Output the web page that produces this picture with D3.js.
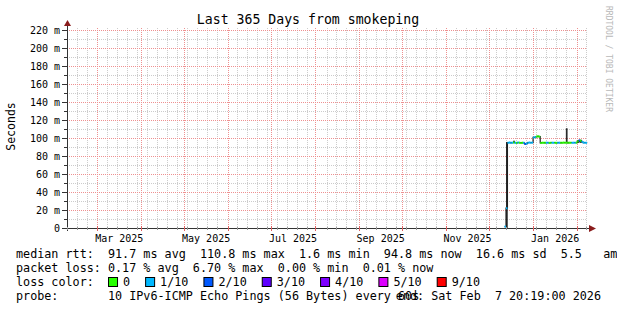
<!DOCTYPE html>
<html><head><meta charset="utf-8">
<script src="https://cdn.jsdelivr.net/npm/d3@7"></script>
<style>
html,body{margin:0;padding:0;background:#fff;}
svg{display:block;font-family:"DejaVu Sans Mono",monospace;}
text{white-space:pre;}
</style></head><body>
<svg id="c" width="617" height="310"></svg>
<script>
// ---------- data ----------
const title = "Last 365 Days from smokeping";
const yAxisLabel = "Seconds";
const watermark = "RRDTOOL / TOBI OETIKER";
const rangeStart = "2025-02-07 20:19";
const rangeEnd = "2026-02-07 20:19";
const yMax = 222.2;
const yMajorTicks = [0, 20, 40, 60, 80, 100, 120, 140, 160, 180, 200, 220];
const yTickLabels = ["0", "20 m", "40 m", "60 m", "80 m", "100 m", "120 m", "140 m", "160 m", "180 m", "200 m", "220 m"];
const yMinorTicks = [10, 30, 50, 70, 90, 110, 130, 150, 170, 190, 210];
const xLabelMonths = ["2025-03", "2025-05", "2025-07", "2025-09", "2025-11", "2026-01"];
const xTickLabels = ["Mar 2025", "May 2025", "Jul 2025", "Sep 2025", "Nov 2025", "Jan 2026"];

const days = ["2025-12-12","2025-12-13","2025-12-14","2025-12-15","2025-12-16","2025-12-17","2025-12-18","2025-12-19",
  "2025-12-20","2025-12-21","2025-12-22","2025-12-23","2025-12-24","2025-12-25","2025-12-26","2025-12-27","2025-12-28",
  "2025-12-29","2025-12-30","2025-12-31","2026-01-01","2026-01-02","2026-01-03","2026-01-04","2026-01-05","2026-01-06",
  "2026-01-07","2026-01-08","2026-01-09","2026-01-10","2026-01-11","2026-01-12","2026-01-13","2026-01-14","2026-01-15",
  "2026-01-16","2026-01-17","2026-01-18","2026-01-19","2026-01-20","2026-01-21","2026-01-22","2026-01-23","2026-01-24",
  "2026-01-25","2026-01-26","2026-01-27","2026-01-28","2026-01-29","2026-01-30","2026-01-31","2026-02-01","2026-02-02",
  "2026-02-03","2026-02-04","2026-02-05","2026-02-06","2026-02-07"];
// median rtt in ms
const median = [1.6, 22, 94.8, 95.0, 94.6, 94.8, 95.0, 94.8,
  94.6, 95.0, 94.8, 94.5, 94.8, 94.6, 93.3, 93.8, 94.8,
  95.0, 94.8, 94.9, 100.6, 100.8, 101.6, 101.8, 101.5, 94.5,
  94.8, 94.8, 94.6, 94.8, 94.8, 94.6, 94.8, 94.8, 94.7,
  94.8, 94.6, 94.8, 94.8, 94.6, 94.8, 94.9, 94.8, 94.8,
  94.6, 94.8, 94.8, 94.7, 94.8, 94.8, 94.8, 96.5, 97.2,
  96.8, 95.8, 94.8, 94.8, 94.8];
// loss level index into lossLabels
const loss = [1, 1, 1, 1, 1, 1, 0, 1,
  0, 1, 0, 0, 0, 1, 2, 1, 1,
  1, 1, 1, 1, 1, 0, 0, 0, 0,
  0, 0, 0, 1, 1, 0, 0, 1, 1,
  0, 0, 1, 1, 0, 0, 0, 0, 0,
  0, 0, 0, 1, 1, 1, 0, 0, 2,
  0, 1, 1, 1, 1];
// smoke (ping spread) where visible
const smokeDays = ["2025-12-13", "2025-12-18", "2026-01-24", "2026-02-01", "2026-02-02", "2026-02-03"];
const smokeLo = [0, 94.8, 94.8, 94.5, 95.0, 94.5];
const smokeHi = [95.5, 97.0, 110.8, 97.5, 98.2, 98.0];

const lossLabels = ["0", "1/10", "2/10", "3/10", "4/10", "5/10", "9/10"];
const lossColors = ["#26ff00", "#00b8ff", "#0059ff", "#5e00ff", "#7e00ff", "#dd00ff", "#ff0000"];

const legendRtt = "median rtt:  91.7 ms avg  110.8 ms max  1.6 ms min  94.8 ms now  16.6 ms sd  5.5   am/s";
const legendLoss = "packet loss: 0.17 % avg  6.70 % max  0.00 % min  0.01 % now";
const legendColorTitle = "loss color:";
const legendProbe = "probe:       10 IPv6-ICMP Echo Pings (56 Bytes) every 60s";
const legendEnd = "end: Sat Feb  7 20:19:00 2026";

// ---------- layout ----------
const svg = d3.select("#c");
const L = 67, R = 587, T = 28, B = 228;
const pt = d3.utcParse("%Y-%m-%d %H:%M"), pd = d3.utcParse("%Y-%m-%d"), pm = d3.utcParse("%Y-%m");
const t0 = pt(rangeStart), t1 = pt(rangeEnd);
const x = d3.scaleUtc().domain([t0, t1]).range([L, R]);
const y = d3.scaleLinear().domain([0, yMax]).range([B, T]);

const minorCol = "#cccccc", majorCol = "#ee9090";
const months = d3.utcMonth.range(t0, t1);
const monthPx = months.map(d => Math.round(x(d)));
const weeks = d3.utcSaturday.range(t0, t1).filter(d => !monthPx.some(p => Math.abs(p - Math.round(x(d))) <= 2));
const g = svg.append("g");
// minor grid
weeks.forEach(d => {
  g.append("line").attr("x1", Math.round(x(d)) + 0.5).attr("x2", Math.round(x(d)) + 0.5)
    .attr("y1", T).attr("y2", B).attr("stroke", minorCol).attr("stroke-dasharray", "1,1");
});
yMinorTicks.forEach(v => {
  g.append("line").attr("x1", L).attr("x2", R).attr("y1", Math.round(y(v)) + 0.5).attr("y2", Math.round(y(v)) + 0.5)
    .attr("stroke", minorCol).attr("stroke-dasharray", "1,1");
});
// major grid
months.forEach(d => {
  g.append("line").attr("x1", Math.round(x(d)) + 0.5).attr("x2", Math.round(x(d)) + 0.5)
    .attr("y1", T).attr("y2", B).attr("stroke", majorCol).attr("stroke-dasharray", "1,1");
});
yMajorTicks.forEach(v => {
  if (v === 0) return;
  g.append("line").attr("x1", L).attr("x2", R).attr("y1", Math.round(y(v)) + 0.5).attr("y2", Math.round(y(v)) + 0.5)
    .attr("stroke", majorCol).attr("stroke-dasharray", "1,1");
});

// smoke
const dayW = x(pd("2026-01-02")) - x(pd("2026-01-01"));
smokeDays.forEach((d, i) => {
  const xd = x(pd(d));
  svg.append("rect").attr("x", xd).attr("width", dayW + 0.3)
    .attr("y", y(smokeHi[i])).attr("height", y(smokeLo[i]) - y(smokeHi[i]))
    .attr("fill", "#2a2a2a");
});

// dark median connector line (step)
const pts = days.map((d, i) => [x(pd(d)), y(median[i])]);
pts.push([x(d3.utcDay.offset(pd(days[days.length - 1]), 1)), y(median[median.length - 1])]);
svg.append("path").attr("d", d3.line().curve(d3.curveStepAfter)(pts))
  .attr("fill", "none").attr("stroke", "#202020").attr("stroke-width", 1.2);

// colored median segments
days.forEach((d, i) => {
  const xa = x(pd(d)), xb = x(d3.utcDay.offset(pd(d), 1));
  svg.append("line").attr("x1", xa).attr("x2", Math.min(xb, R)).attr("y1", y(median[i])).attr("y2", y(median[i]))
    .attr("stroke", lossColors[loss[i]]).attr("stroke-width", 2);
});

// axes
const axCol = "#333", arrowCol = "#8a1c1c";
svg.append("line").attr("x1", L + 0.5).attr("x2", L + 0.5).attr("y1", B + 3).attr("y2", 24).attr("stroke", axCol);
svg.append("line").attr("x1", 62).attr("x2", 591).attr("y1", B + 0.5).attr("y2", B + 0.5).attr("stroke", axCol);
svg.append("path").attr("d", `M${L + 0.5},20 L${L - 3},26 L${L + 4},26 Z`).attr("fill", arrowCol);
svg.append("path").attr("d", `M596,${B + 0.5} L589,${B - 3} L589,${B + 4} Z`).attr("fill", arrowCol);

// y ticks & labels
yMajorTicks.forEach((v, i) => {
  const yy = Math.round(y(v)) + 0.5;
  svg.append("line").attr("x1", 62).attr("x2", L).attr("y1", yy).attr("y2", yy).attr("stroke", axCol);
  svg.append("text").attr("x", 60).attr("y", yy + 3.5).attr("text-anchor", "end")
    .attr("font-size", 10).attr("fill", "#000").text(yTickLabels[i]);
});
yMinorTicks.forEach(v => {
  const yy = Math.round(y(v)) + 0.5;
  svg.append("line").attr("x1", 64).attr("x2", L).attr("y1", yy).attr("y2", yy).attr("stroke", axCol);
});
// x ticks
weeks.forEach(d => {
  const xx = Math.round(x(d)) + 0.5;
  svg.append("line").attr("x1", xx).attr("x2", xx).attr("y1", B - 1).attr("y2", B + 2).attr("stroke", "#999");
});
months.forEach(d => {
  const xx = Math.round(x(d)) + 0.5;
  svg.append("line").attr("x1", xx).attr("x2", xx).attr("y1", B - 2).attr("y2", B + 3).attr("stroke", "#e06060");
});
xLabelMonths.forEach((m, i) => {
  const a = pm(m), b = d3.utcMonth.offset(a, 1);
  svg.append("text").attr("x", (x(a) + x(b)) / 2).attr("y", 242).attr("text-anchor", "middle")
    .attr("font-size", 10).attr("fill", "#000").text(xTickLabels[i]);
});

// title, axis title, watermark
svg.append("text").attr("x", 308).attr("y", 24).attr("text-anchor", "middle").attr("font-size", 13.2).text(title);
svg.append("text").attr("transform", "translate(15,126.5) rotate(-90)").attr("text-anchor", "middle")
  .attr("font-size", 11.5).text(yAxisLabel);
svg.append("text").attr("transform", "translate(606,59) rotate(90)").attr("text-anchor", "middle")
  .attr("font-size", 8).attr("fill", "#b8b8b8").text(watermark);

// legend
const lf = 11.76, cw = lf * 0.602;
svg.append("text").attr("x", 16).attr("y", 258).attr("font-size", lf).text(legendRtt);
svg.append("text").attr("x", 16).attr("y", 272).attr("font-size", lf).text(legendLoss);
svg.append("text").attr("x", 16).attr("y", 286).attr("font-size", lf).text(legendColorTitle);
let lx = 16 + cw * 13;
lossLabels.forEach((lab, i) => {
  svg.append("rect").attr("x", lx + 0.5).attr("y", 277.5).attr("width", 9).attr("height", 9)
    .attr("fill", lossColors[i]).attr("stroke", "#000");
  svg.append("text").attr("x", lx + 15).attr("y", 286).attr("font-size", lf).text(lab);
  lx += 15 + lab.length * cw + 15;
});
svg.append("text").attr("x", 16).attr("y", 300).attr("font-size", lf).text(legendProbe);
svg.append("text").attr("x", 601).attr("y", 300).attr("text-anchor", "end").attr("font-size", lf).text(legendEnd);
</script></body></html>
